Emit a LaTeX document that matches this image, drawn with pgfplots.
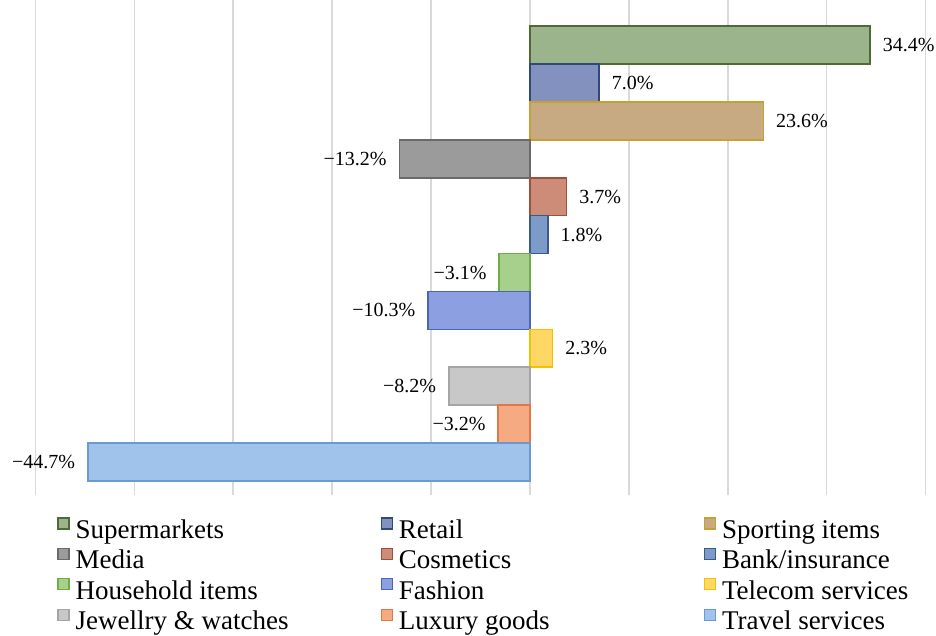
\documentclass[border=0pt]{standalone}
\usepackage{pgfplots}
\pgfplotsset{compat=1.18}
\usepackage{fontspec}
\setmainfont{Liberation Serif}
\definecolor{f1}{HTML}{9BB48C}\definecolor{e1}{HTML}{4E6B35}
\definecolor{f2}{HTML}{8291BE}\definecolor{e2}{HTML}{2F4A7A}
\definecolor{f3}{HTML}{C8AA82}\definecolor{e3}{HTML}{C8A032}
\definecolor{f4}{HTML}{9B9B9B}\definecolor{e4}{HTML}{6A6A6A}
\definecolor{f5}{HTML}{CD8C78}\definecolor{e5}{HTML}{A0503A}
\definecolor{f6}{HTML}{7D9BC8}\definecolor{e6}{HTML}{3A5A8C}
\definecolor{f7}{HTML}{A8D08D}\definecolor{e7}{HTML}{70AD47}
\definecolor{f8}{HTML}{8CA0E1}\definecolor{e8}{HTML}{4A66B0}
\definecolor{f9}{HTML}{FFD764}\definecolor{e9}{HTML}{F2C200}
\definecolor{f10}{HTML}{C8C8C8}\definecolor{e10}{HTML}{A5A5A5}
\definecolor{f11}{HTML}{F5AA82}\definecolor{e11}{HTML}{E0784A}
\definecolor{f12}{HTML}{A0C3EB}\definecolor{e12}{HTML}{6A9AD0}
\newcommand{\lgt}[1]{\makebox[155.5pt][l]{\hspace{3pt}\rule[-4.5pt]{0pt}{15.5pt}#1}}
\begin{document}
\begin{tikzpicture}
\useasboundingbox (-17.75pt,-70.5pt) rectangle (450.25pt,247.5pt);
\begin{axis}[
  scale only axis, width=445pt, height=247.5pt,
  xmin=-50, xmax=40, ymin=0.13, ymax=13.19,
  xtick={-50,-40,...,40}, xticklabels={}, ytick=\empty,
  xmajorgrids, grid style={gray!30, line width=0.8pt},
  axis line style={draw=none}, major tick length=0pt,
  clip=false,
  xbar, bar width=1, bar shift=0pt,
  every axis plot/.append style={line width=0.8pt},
  point meta=explicit symbolic,
  nodes near coords,
  every node near coord/.append style={font=\fontsize{10}{12}\selectfont, text=black, inner sep=2pt, anchor=west, xshift=4pt},
  legend columns=3,
  legend cell align=left,
  legend style={at={(rel axis cs:0,0)}, anchor=north west, xshift=10.75pt, yshift=-10.5pt,
    draw=none, fill=none, inner sep=0pt, row sep=2.7pt, column sep=0pt,
    font=\fontsize{13.5}{15.5}\selectfont, nodes={inner sep=0pt}},
  legend image code/.code={\draw[#1, line width=0.6pt] (0pt,0pt) rectangle (5.5pt,5.5pt);},
]
\addplot[fill=f1, draw=e1] coordinates {(34.4,12) [34.4\%]};
\addlegendentry{\lgt{Supermarkets}}
\addplot[fill=f2, draw=e2] coordinates {(7.0,11) [7.0\%]};
\addlegendentry{\lgt{Retail}}
\addplot[fill=f3, draw=e3] coordinates {(23.6,10) [23.6\%]};
\addlegendentry{\lgt{Sporting items}}
\addplot[fill=f4, draw=e4, every node near coord/.append style={anchor=east, xshift=-8pt}] coordinates {(-13.2,9) [−13.2\%]};
\addlegendentry{\lgt{Media}}
\addplot[fill=f5, draw=e5] coordinates {(3.7,8) [3.7\%]};
\addlegendentry{\lgt{Cosmetics}}
\addplot[fill=f6, draw=e6] coordinates {(1.8,7) [1.8\%]};
\addlegendentry{\lgt{Bank/insurance}}
\addplot[fill=f7, draw=e7, every node near coord/.append style={anchor=east, xshift=-8pt}] coordinates {(-3.1,6) [−3.1\%]};
\addlegendentry{\lgt{Household items}}
\addplot[fill=f8, draw=e8, every node near coord/.append style={anchor=east, xshift=-8pt}] coordinates {(-10.3,5) [−10.3\%]};
\addlegendentry{\lgt{Fashion}}
\addplot[fill=f9, draw=e9] coordinates {(2.3,4) [2.3\%]};
\addlegendentry{\lgt{Telecom services}}
\addplot[fill=f10, draw=e10, every node near coord/.append style={anchor=east, xshift=-8pt}] coordinates {(-8.2,3) [−8.2\%]};
\addlegendentry{\lgt{Jewellry \& watches}}
\addplot[fill=f11, draw=e11, every node near coord/.append style={anchor=east, xshift=-8pt}] coordinates {(-3.2,2) [−3.2\%]};
\addlegendentry{\lgt{Luxury goods}}
\addplot[fill=f12, draw=e12, every node near coord/.append style={anchor=east, xshift=-8pt}] coordinates {(-44.7,1) [−44.7\%]};
\addlegendentry{\lgt{Travel services}}
\end{axis}
\end{tikzpicture}
\end{document}
